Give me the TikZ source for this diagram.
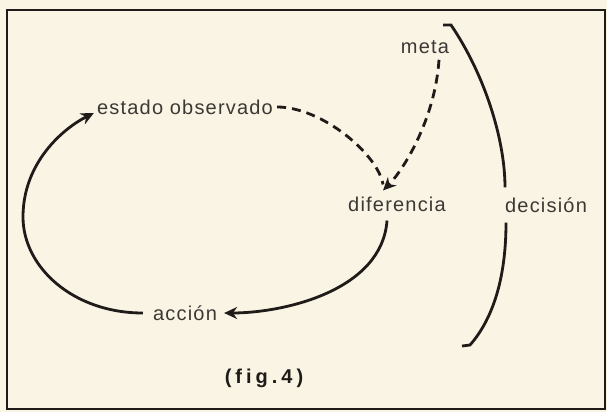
\documentclass[tikz,border=0pt]{standalone}
\usepackage{fontspec}
\setmainfont{Liberation Sans}[LetterSpace=6]
\usetikzlibrary{arrows.meta}
\definecolor{paper}{RGB}{250,244,228}
\definecolor{ink}{RGB}{30,27,25}
\definecolor{txt}{RGB}{60,56,52}
\begin{document}
\begin{tikzpicture}[x=1pt,y=-1pt,
  lbl/.style={inner sep=0pt,text=txt,font=\fontsize{20}{23}\selectfont},
  figlbl/.style={inner sep=0pt,text=ink,font=\fontsize{20}{23}\selectfont\addfontfeature{LetterSpace=20}\bfseries},
  con/.style={draw=ink,line width=2.8pt},
  dashcon/.style={draw=ink,line width=2.8pt,dash pattern=on 9pt off 6pt},
  tipa/.style={-{Stealth[length=13pt,width=12pt]}}]
\fill[paper] (0,0) rectangle (607,412);
\useasboundingbox (0,0) rectangle (607,412);
\draw[ink,line width=2.2pt] (7,10) rectangle (605,409);
\node[lbl] (meta) at (425,47) {meta};
\node[lbl] (est) at (185,107) {estado observado};
\node[lbl] (dif) at (397,204) {diferencia};
\node[lbl] (dec) at (546,205) {decisión};
\node[lbl] (acc) at (185,313) {acción};
\node[figlbl] (fig) at (264,378) {(fig.4)};
% dashed inputs
\draw[dashcon] ([xshift=4pt]est.east) .. controls +(45,0) and +(-5,-30) .. ([xshift=-14pt,yshift=12pt]dif.north);
\draw[dashcon,tipa] ([xshift=14pt,yshift=-6pt]meta.south) .. controls +(-4,60) and +(20,-20) .. ([xshift=-14pt,yshift=6pt]dif.north);
% loop
\draw[con,tipa] ([xshift=-10pt,yshift=-9pt]dif.south) .. controls +(-5,70) and +(60,0) .. ([xshift=7pt]acc.east);
\draw[con,tipa] ([xshift=-10pt]acc.west) .. controls +(-70,0) and +(0,50) .. (23,217) .. controls +(0,-55) and +(-30,15) .. ([xshift=-3pt,yshift=-6pt]est.west);
% decision bracket
\draw[con] (443,25) -- (451,25) .. controls (485,75) and (505,140) .. ([xshift=-41pt,yshift=10pt]dec.north);
\draw[con] ([xshift=-40pt,yshift=-10pt]dec.south) .. controls (506,280) and (492,320) .. (470,345) -- (462,346);
\end{tikzpicture}
\end{document}
